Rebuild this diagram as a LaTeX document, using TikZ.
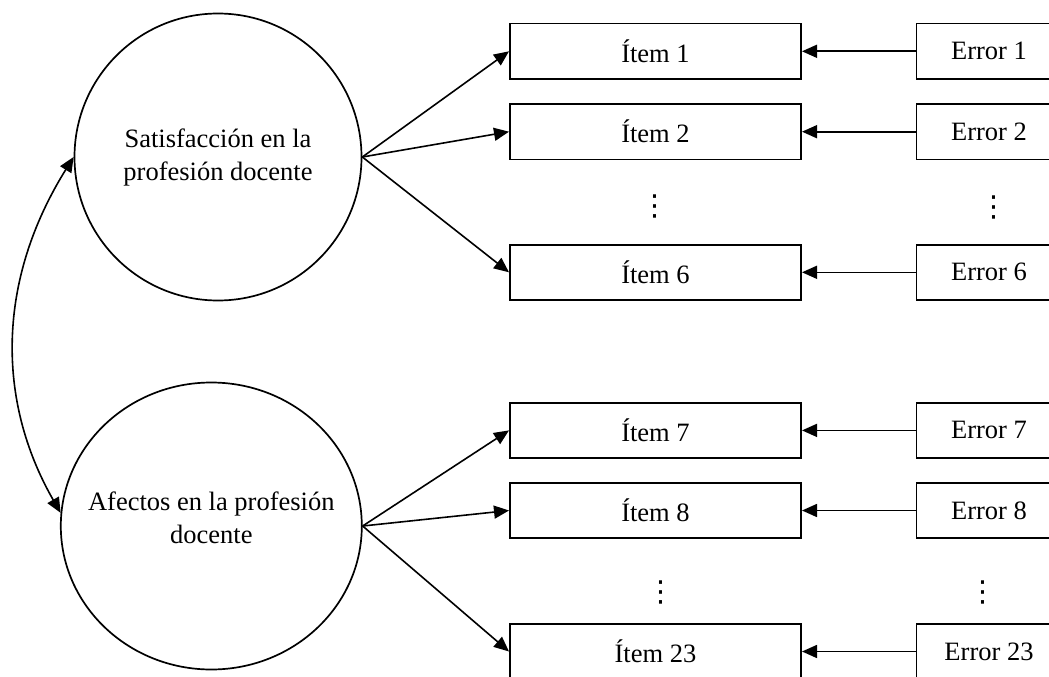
\documentclass[tikz,border=0pt]{standalone}
\usepackage{fontspec}
\setmainfont{Liberation Serif}
\newfontfamily\dvfont{DejaVu Sans}
\usetikzlibrary{arrows.meta,shapes.geometric}
\newcommand{\fsz}{\fontsize{26.5}{33}\selectfont}
\tikzset{
  box/.style={draw, line width=1.7pt, rectangle, minimum width=291.3pt, minimum height=55.3pt, inner sep=0pt, font=\fsz},
  errbox/.style={box, minimum width=145pt},
  latent/.style={draw, line width=1.7pt, circle, minimum size=287pt, inner sep=0pt, font=\fsz, align=center},
  arr/.style={line width=1.6pt, -{Triangle[length=15pt,width=13pt]}},
  biarr/.style={line width=1.6pt, {Triangle[length=15pt,width=13pt]}-{Triangle[length=15pt,width=13pt]}},
  dotsnode/.style={inner sep=0pt, font=\dvfont\fontsize{29}{29}\selectfont}
}
\begin{document}
\begin{tikzpicture}[x=1pt,y=-1pt]
\useasboundingbox (0,0) rectangle (1049,677);
% latent variables
\node[latent] (c1) at (218,157) {Satisfacción en la\\profesión docente};
\node[latent, ellipse, minimum width=301pt, minimum height=287pt] (c2) at (211.3,526) {};
\node[font=\fsz, align=center, inner sep=0pt] (c2t) at (211.3,518) {Afectos en la profesión\\docente};
% items
\node[box] (i1) at (655.5,51.3) {Ítem 1};
\node[box] (i2) at (655.5,131.7) {Ítem 2};
\node[box] (i6) at (655.5,272.3) {Ítem 6};
\node[box] (i7) at (655.5,430.4) {Ítem 7};
\node[box] (i8) at (655.5,510.5) {Ítem 8};
\node[box] (i23) at (655.5,651.5) {Ítem 23};
% errors
\node[errbox] (e1) at (989,51.3) {Error 1};
\node[errbox] (e2) at (989,131.7) {Error 2};
\node[errbox] (e6) at (989,272.3) {Error 6};
\node[errbox] (e7) at (989,430.4) {Error 7};
\node[errbox] (e8) at (989,510.5) {Error 8};
\node[errbox] (e23) at (989,651.5) {Error 23};
% dots
\node[dotsnode] (d1) at (655,206) {⋮};
\node[dotsnode] (d2) at (994,207) {⋮};
\node[dotsnode] (d3) at (661,592.5) {⋮};
\node[dotsnode] (d4) at (983,592) {⋮};
% loadings
\foreach \i in {i1,i2,i6} \draw[arr] (c1.east) -- (\i.west);
\foreach \i in {i7,i8,i23} \draw[arr] (c2.east) -- (\i.west);
% errors to items
\foreach \n in {1,2,6,7,8,23} \draw[arr] (e\n.west) -- (i\n.east);
% covariance
\draw[biarr] (c1.west) .. controls (-3,280) and (-4,400) .. (c2.175);
\end{tikzpicture}
\end{document}
